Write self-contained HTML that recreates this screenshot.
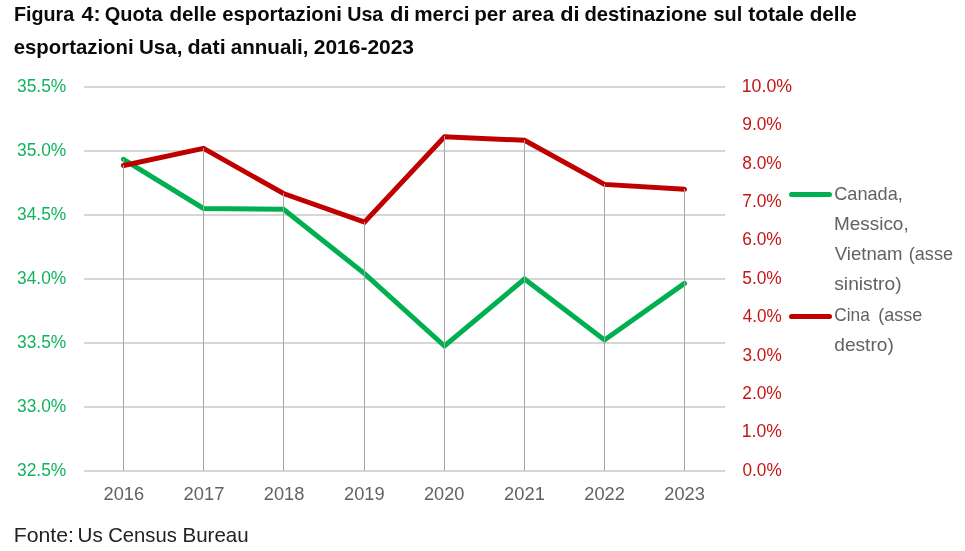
<!DOCTYPE html>
<html lang="it">
<head>
<meta charset="utf-8">
<title>Figura 4</title>
<style>
  html, body { margin: 0; padding: 0; background: #ffffff; }
  body { width: 965px; height: 551px; overflow: hidden; font-family: "Liberation Sans", sans-serif; }
  svg { display: block; position: absolute; left: 0; top: 0; will-change: transform; }
  text { font-family: "Liberation Sans", sans-serif; }
  .title { font-weight: bold; font-size: 20.6px; fill: #0a0a0a; }
  .foot { font-size: 20.4px; fill: #222222; }
  .lax { font-size: 18.6px; fill: #12b45b; }
  .rax { font-size: 18.6px; fill: #c41616; }
  .xax { font-size: 18.3px; fill: #626262; }
  .leg { font-size: 19px; fill: #626262; }
</style>
</head>
<body>
<svg width="965" height="551" viewBox="0 0 965 551">
  <rect x="0" y="0" width="965" height="551" fill="#ffffff"/>
  <!-- horizontal gridlines -->
  <g fill="#d6d6d6" shape-rendering="crispEdges">
    <rect x="84" y="86" width="641" height="2"/>
    <rect x="84" y="150" width="641" height="2"/>
    <rect x="84" y="214" width="641" height="2"/>
    <rect x="84" y="278" width="641" height="2"/>
    <rect x="84" y="342" width="641" height="2"/>
    <rect x="84" y="406" width="641" height="2"/>
    <rect x="84" y="470" width="641" height="2"/>
  </g>
  <!-- green series (left axis) -->
  <polyline fill="none" stroke="#00b050" stroke-width="5" stroke-linecap="round" stroke-linejoin="miter" stroke-miterlimit="10"
    points="123.5,159.3 203.5,208.4 283.5,209.3 364.5,273.6 444.5,346.0 524.5,279.0 604.5,339.95 684.5,283.4"/>
  <!-- green drop lines -->
  <g fill="#a6a6a6" shape-rendering="crispEdges">
    <rect x="123" y="159" width="1" height="312"/>
    <rect x="203" y="208" width="1" height="263"/>
    <rect x="283" y="209" width="1" height="262"/>
    <rect x="364" y="273" width="1" height="198"/>
    <rect x="444" y="346" width="1" height="125"/>
    <rect x="524" y="279" width="1" height="192"/>
    <rect x="604" y="339" width="1" height="132"/>
    <rect x="684" y="283" width="1" height="188"/>
  </g>
  <!-- red series (right axis) -->
  <polyline fill="none" stroke="#c00000" stroke-width="5" stroke-linecap="round" stroke-linejoin="miter" stroke-miterlimit="10"
    points="123.5,165.5 203.5,148.4 283.5,193.5 364.5,222.1 444.5,136.8 524.5,140.3 604.5,184.4 684.5,189.3"/>
  <!-- red drop lines -->
  <g fill="#a6a6a6" shape-rendering="crispEdges">
    <rect x="123" y="165" width="1" height="306"/>
    <rect x="203" y="148" width="1" height="323"/>
    <rect x="283" y="193" width="1" height="278"/>
    <rect x="364" y="222" width="1" height="249"/>
    <rect x="444" y="136" width="1" height="335"/>
    <rect x="524" y="140" width="1" height="331"/>
    <rect x="604" y="184" width="1" height="287"/>
    <rect x="684" y="189" width="1" height="282"/>
  </g>
  <!-- legend keys -->
  <line x1="791.5" y1="194.4" x2="829.5" y2="194.4" stroke="#00b050" stroke-width="5" stroke-linecap="round"/>
  <line x1="791.5" y1="316.6" x2="829.5" y2="316.6" stroke="#c00000" stroke-width="5" stroke-linecap="round"/>
  <g id="labels">
    <text id="ta0" class="title" x="14.00" y="20.60" textLength="60.27" lengthAdjust="spacingAndGlyphs">Figura</text>
    <text id="ta1" class="title" x="81.50" y="20.60" textLength="19.02" lengthAdjust="spacingAndGlyphs">4:</text>
    <text id="ta2" class="title" x="104.75" y="20.60" textLength="57.76" lengthAdjust="spacingAndGlyphs">Quota</text>
    <text id="ta3" class="title" x="169.50" y="20.60" textLength="47.04" lengthAdjust="spacingAndGlyphs">delle</text>
    <text id="ta4" class="title" x="222.25" y="20.60" textLength="119.54" lengthAdjust="spacingAndGlyphs">esportazioni</text>
    <text id="ta5" class="title" x="347.25" y="20.60" textLength="36.03" lengthAdjust="spacingAndGlyphs">Usa</text>
    <text id="ta6" class="title" x="390.00" y="20.60" textLength="19.55" lengthAdjust="spacingAndGlyphs">di</text>
    <text id="ta7" class="title" x="414.25" y="20.60" textLength="55.15" lengthAdjust="spacingAndGlyphs">merci</text>
    <text id="ta8" class="title" x="474.25" y="20.60" textLength="32.08" lengthAdjust="spacingAndGlyphs">per</text>
    <text id="ta9" class="title" x="512.00" y="20.60" textLength="42.01" lengthAdjust="spacingAndGlyphs">area</text>
    <text id="ta10" class="title" x="560.25" y="20.60" textLength="19.31" lengthAdjust="spacingAndGlyphs">di</text>
    <text id="ta11" class="title" x="584.50" y="20.60" textLength="122.52" lengthAdjust="spacingAndGlyphs">destinazione</text>
    <text id="ta12" class="title" x="713.50" y="20.60" textLength="28.65" lengthAdjust="spacingAndGlyphs">sul</text>
    <text id="ta13" class="title" x="748.25" y="20.60" textLength="55.76" lengthAdjust="spacingAndGlyphs">totale</text>
    <text id="ta14" class="title" x="809.75" y="20.60" textLength="47.04" lengthAdjust="spacingAndGlyphs">delle</text>
    <text id="tb0" class="title" x="13.75" y="54.40" textLength="119.79" lengthAdjust="spacingAndGlyphs">esportazioni</text>
    <text id="tb1" class="title" x="139.00" y="54.40" textLength="43.41" lengthAdjust="spacingAndGlyphs">Usa,</text>
    <text id="tb2" class="title" x="187.50" y="54.40" textLength="38.15" lengthAdjust="spacingAndGlyphs">dati</text>
    <text id="tb3" class="title" x="230.75" y="54.40" textLength="77.80" lengthAdjust="spacingAndGlyphs">annuali,</text>
    <text id="tb4" class="title" x="313.75" y="54.40" textLength="100.27" lengthAdjust="spacingAndGlyphs">2016-2023</text>
    <text id="ft0" class="foot" x="13.75" y="542.00" textLength="60.21" lengthAdjust="spacingAndGlyphs">Fonte:</text>
    <text id="ft1" class="foot" x="77.50" y="542.00" textLength="25.22" lengthAdjust="spacingAndGlyphs">Us</text>
    <text id="ft2" class="foot" x="108.25" y="542.00" textLength="68.55" lengthAdjust="spacingAndGlyphs">Census</text>
    <text id="ft3" class="foot" x="182.50" y="542.00" textLength="66.14" lengthAdjust="spacingAndGlyphs">Bureau</text>
    <text id="l0" class="lax" x="17.00" y="91.80" textLength="49.28" lengthAdjust="spacingAndGlyphs">35.5%</text>
    <text id="l1" class="lax" x="17.00" y="155.80" textLength="49.28" lengthAdjust="spacingAndGlyphs">35.0%</text>
    <text id="l2" class="lax" x="17.00" y="219.80" textLength="49.28" lengthAdjust="spacingAndGlyphs">34.5%</text>
    <text id="l3" class="lax" x="17.00" y="283.80" textLength="49.28" lengthAdjust="spacingAndGlyphs">34.0%</text>
    <text id="l4" class="lax" x="17.00" y="347.80" textLength="49.28" lengthAdjust="spacingAndGlyphs">33.5%</text>
    <text id="l5" class="lax" x="17.00" y="411.80" textLength="49.28" lengthAdjust="spacingAndGlyphs">33.0%</text>
    <text id="l6" class="lax" x="17.00" y="475.80" textLength="49.28" lengthAdjust="spacingAndGlyphs">32.5%</text>
    <text id="r0" class="rax" x="741.75" y="91.80" textLength="50.34" lengthAdjust="spacingAndGlyphs">10.0%</text>
    <text id="r1" class="rax" x="742.25" y="130.20" textLength="39.56" lengthAdjust="spacingAndGlyphs">9.0%</text>
    <text id="r2" class="rax" x="742.25" y="168.60" textLength="39.55" lengthAdjust="spacingAndGlyphs">8.0%</text>
    <text id="r3" class="rax" x="742.25" y="207.00" textLength="39.56" lengthAdjust="spacingAndGlyphs">7.0%</text>
    <text id="r4" class="rax" x="742.25" y="245.40" textLength="39.56" lengthAdjust="spacingAndGlyphs">6.0%</text>
    <text id="r5" class="rax" x="742.25" y="283.80" textLength="39.55" lengthAdjust="spacingAndGlyphs">5.0%</text>
    <text id="r6" class="rax" x="742.75" y="322.20" textLength="39.03" lengthAdjust="spacingAndGlyphs">4.0%</text>
    <text id="r7" class="rax" x="742.50" y="360.60" textLength="39.29" lengthAdjust="spacingAndGlyphs">3.0%</text>
    <text id="r8" class="rax" x="742.25" y="399.00" textLength="39.56" lengthAdjust="spacingAndGlyphs">2.0%</text>
    <text id="r9" class="rax" x="741.75" y="437.40" textLength="40.11" lengthAdjust="spacingAndGlyphs">1.0%</text>
    <text id="r10" class="rax" x="742.50" y="475.80" textLength="39.29" lengthAdjust="spacingAndGlyphs">0.0%</text>
    <text id="x0" class="xax" x="103.50" y="500.10" textLength="40.57" lengthAdjust="spacingAndGlyphs">2016</text>
    <text id="x1" class="xax" x="183.50" y="500.10" textLength="40.85" lengthAdjust="spacingAndGlyphs">2017</text>
    <text id="x2" class="xax" x="263.75" y="500.10" textLength="40.58" lengthAdjust="spacingAndGlyphs">2018</text>
    <text id="x3" class="xax" x="344.00" y="500.10" textLength="40.58" lengthAdjust="spacingAndGlyphs">2019</text>
    <text id="x4" class="xax" x="424.00" y="500.10" textLength="40.31" lengthAdjust="spacingAndGlyphs">2020</text>
    <text id="x5" class="xax" x="504.00" y="500.10" textLength="40.85" lengthAdjust="spacingAndGlyphs">2021</text>
    <text id="x6" class="xax" x="584.25" y="500.10" textLength="40.58" lengthAdjust="spacingAndGlyphs">2022</text>
    <text id="x7" class="xax" x="664.25" y="500.10" textLength="40.57" lengthAdjust="spacingAndGlyphs">2023</text>
    <text id="g0" class="leg" x="834.25" y="199.50" textLength="68.60" lengthAdjust="spacingAndGlyphs">Canada,</text>
    <text id="g1" class="leg" x="834.00" y="229.60" textLength="74.66" lengthAdjust="spacingAndGlyphs">Messico,</text>
    <text id="g2" class="leg" x="834.75" y="259.60" textLength="67.79" lengthAdjust="spacingAndGlyphs">Vietnam</text>
    <text id="g3" class="leg" x="908.75" y="259.60" textLength="44.34" lengthAdjust="spacingAndGlyphs">(asse</text>
    <text id="g4" class="leg" x="834.25" y="289.90" textLength="67.30" lengthAdjust="spacingAndGlyphs">sinistro)</text>
    <text id="g5" class="leg" x="834.25" y="320.60" textLength="35.52" lengthAdjust="spacingAndGlyphs">Cina</text>
    <text id="g6" class="leg" x="878.25" y="320.60" textLength="44.09" lengthAdjust="spacingAndGlyphs">(asse</text>
    <text id="g7" class="leg" x="834.25" y="351.30" textLength="59.56" lengthAdjust="spacingAndGlyphs">destro)</text>
  </g>
</svg>
</body>
</html>
